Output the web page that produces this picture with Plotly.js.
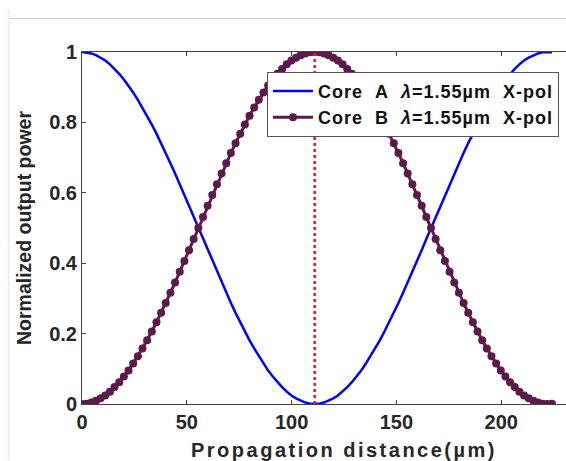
<!DOCTYPE html>
<html>
<head>
<meta charset="utf-8">
<script src="https://cdn.plot.ly/plotly-3.0.1.min.js"></script>
<style>
html,body{margin:0;padding:0;background:#fff;width:566px;height:461px;overflow:hidden;}
#chart{width:620px;height:461px;}
.xtitle{letter-spacing:2.5px;}
.legendtext{letter-spacing:1px;}
</style>
</head>
<body>
<div id="chart"></div>
<script>
// Propagation distance (µm)
const distance = [0,2.22,4.44,6.66,8.88,11.1,13.32,15.54,17.76,19.98,22.2,24.42,26.64,28.86,31.08,33.3,35.52,37.74,39.96,42.18,44.4,46.62,48.84,51.06,53.28,55.5,57.72,59.94,62.16,64.38,66.6,68.82,71.04,73.26,75.48,77.7,79.92,82.14,84.36,86.58,88.8,91.02,93.24,95.46,97.68,99.9,102.12,104.34,106.56,108.78,111,113.22,115.44,117.66,119.88,122.1,124.32,126.54,128.76,130.98,133.2,135.42,137.64,139.86,142.08,144.3,146.52,148.74,150.96,153.18,155.4,157.62,159.84,162.06,164.28,166.5,168.72,170.94,173.16,175.38,177.6,179.82,182.04,184.26,186.48,188.7,190.92,193.14,195.36,197.58,199.8,202.02,204.24,206.46,208.68,210.9,213.12,215.34,217.56,219.78,222,224.22];
// Core B normalized power
const coreB = [0,0.001,0.004,0.009,0.016,0.024,0.035,0.048,0.062,0.078,0.095,0.115,0.136,0.158,0.181,0.206,0.232,0.259,0.287,0.316,0.345,0.376,0.406,0.437,0.469,0.5,0.531,0.563,0.594,0.624,0.655,0.684,0.713,0.741,0.768,0.794,0.819,0.842,0.864,0.885,0.905,0.922,0.938,0.952,0.965,0.976,0.984,0.991,0.996,0.999,1,0.999,0.996,0.991,0.984,0.976,0.965,0.952,0.938,0.922,0.905,0.885,0.864,0.842,0.819,0.794,0.768,0.741,0.713,0.684,0.655,0.624,0.594,0.563,0.531,0.5,0.469,0.437,0.406,0.376,0.345,0.316,0.287,0.259,0.232,0.206,0.181,0.158,0.136,0.115,0.095,0.078,0.062,0.048,0.035,0.024,0.016,0.009,0.004,0.001,0,0.001];
// Core A normalized power
const coreA = [1,0.999,0.996,0.991,0.984,0.976,0.965,0.952,0.938,0.922,0.905,0.885,0.864,0.842,0.819,0.794,0.768,0.741,0.713,0.684,0.655,0.624,0.594,0.563,0.531,0.5,0.469,0.437,0.406,0.376,0.345,0.316,0.287,0.259,0.232,0.206,0.181,0.158,0.136,0.115,0.095,0.078,0.062,0.048,0.035,0.024,0.016,0.009,0.004,0.001,0,0.001,0.004,0.009,0.016,0.024,0.035,0.048,0.062,0.078,0.095,0.115,0.136,0.158,0.181,0.206,0.232,0.259,0.287,0.316,0.345,0.376,0.406,0.437,0.469,0.5,0.531,0.563,0.594,0.624,0.655,0.684,0.713,0.741,0.768,0.794,0.819,0.842,0.864,0.885,0.905,0.922,0.938,0.952,0.965,0.976,0.984,0.991,0.996,0.999,1,0.999];
// Coupling length marker
const markerX = [111, 111];
const markerY = [0, 1];
const xTicks = [0, 50, 100, 150, 200, 250];
const yTicks = [0, 0.2, 0.4, 0.6, 0.8, 1];
const yTickText = ['0', '0.2', '0.4', '0.6', '0.8', '1'];
const nameA = 'Core\u00a0\u00a0A\u00a0\u00a0<i>λ</i>=1.55µm\u00a0\u00a0X-pol';
const nameB = 'Core\u00a0\u00a0B\u00a0\u00a0<i>λ</i>=1.55µm\u00a0\u00a0X-pol';

const traces = [
  {x: distance, y: coreA, type: 'scatter', mode: 'lines', name: nameA,
   line: {color: '#0000ff', width: 2.5}},
  {x: distance, y: coreB, type: 'scatter', mode: 'lines+markers', name: nameB,
   line: {color: '#5c1a4a', width: 3}, marker: {color: '#5c1a4a', size: 8}},
  {x: markerX, y: markerY, type: 'scatter', mode: 'lines', showlegend: false,
   line: {color: '#ff1010', width: 2.5, dash: 'dot'}}
];

const fam = 'Liberation Sans, Arial, sans-serif';
const layout = {
  width: 620, height: 461,
  margin: {l: 82, r: 14, t: 52, b: 57},
  paper_bgcolor: '#ffffff', plot_bgcolor: '#ffffff',
  showlegend: true,
  legend: {x: 0.353, y: 0.944, xanchor: 'left', yanchor: 'top',
    bgcolor: '#ffffff', bordercolor: '#555555', borderwidth: 1,
    font: {family: fam, size: 18, color: '#111', weight: 'bold'},
    tracegroupgap: 0, itemwidth: 40},
  xaxis: {range: [0, 250], tickvals: xTicks, ticktext: xTicks.map(String),
    ticks: 'inside', ticklen: 4, tickcolor: '#444', showline: true, linecolor: '#444', linewidth: 1,
    mirror: 'ticks', showgrid: false, zeroline: false,
    tickfont: {family: fam, size: 20, color: '#262626', weight: 'bold'},
    title: {text: 'Propagation distance(µm)', standoff: 13,
      font: {family: fam, size: 20, color: '#262626', weight: 'bold'}}},
  yaxis: {range: [0, 1], tickvals: yTicks, ticktext: yTickText,
    ticks: 'inside', ticklen: 4, tickcolor: '#444', showline: true, linecolor: '#444', linewidth: 1,
    showgrid: false, zeroline: false,
    tickfont: {family: fam, size: 20, color: '#262626', weight: 'bold'},
    title: {text: 'Normalized output power', standoff: 12,
      font: {family: fam, size: 19.5, color: '#262626', weight: 'bold'}}},
  shapes: [
    {type: 'line', xref: 'paper', yref: 'paper', x0: -0.14, x1: 1.03, y0: 1.095, y1: 1.095,
     line: {color: '#cccccc', width: 1}},
    {type: 'line', xref: 'paper', yref: 'paper', x0: -0.14, x1: -0.14, y0: -0.16, y1: 1.12,
     line: {color: '#eeeeee', width: 2}}
  ]
};
Plotly.newPlot('chart', traces, layout, {displayModeBar: false, staticPlot: true});
</script>
</body>
</html>
